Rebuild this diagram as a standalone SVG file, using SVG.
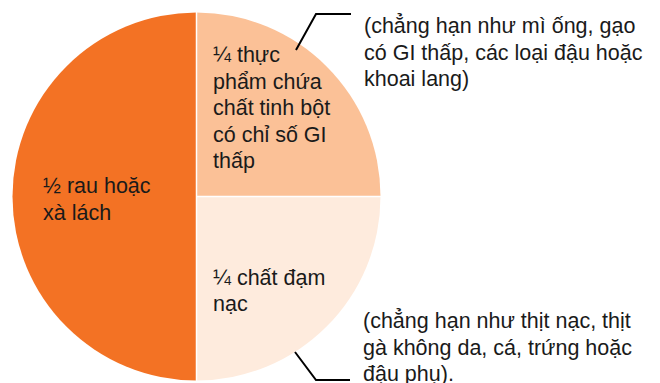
<svg xmlns="http://www.w3.org/2000/svg" width="660" height="383" viewBox="0 0 660 383">
  <style>
    .lbl { font-family: "Liberation Sans", Arial, sans-serif; font-size: 21.5px; fill: #1a1a1a; }
    .sep { stroke: #ffffff; stroke-width: 1.5; fill: none; }
    .lead { stroke: #000000; stroke-width: 2; fill: none; }
  </style>
  <rect width="660" height="383" fill="#ffffff"/>

  <!-- half: vegetables -->
  <g id="veg">
    <path d="M196.5,12.5 A184,184 0 0 0 196.5,380.5 Z" fill="#F37224"/>
    <text class="lbl" x="43" y="193">½ rau hoặc</text>
    <text class="lbl" x="43" y="219.5">xà lách</text>
  </g>

  <!-- quarter: starch -->
  <g id="starch">
    <path d="M196.5,196.5 L196.5,12.5 A184,184 0 0 1 380.5,196.5 Z" fill="#FBC197"/>
    <text class="lbl" x="213" y="62">¼ thực</text>
    <text class="lbl" x="213" y="88.5">phẩm chứa</text>
    <text class="lbl" x="213" y="115">chất tinh bột</text>
    <text class="lbl" x="213" y="141.5">có chỉ số GI</text>
    <text class="lbl" x="213" y="168">thấp</text>
  </g>

  <!-- quarter: lean protein -->
  <g id="protein">
    <path d="M196.5,196.5 L380.5,196.5 A184,184 0 0 1 196.5,380.5 Z" fill="#FEEBDD"/>
    <text class="lbl" x="213" y="285">¼ chất đạm</text>
    <text class="lbl" x="213" y="311">nạc</text>
  </g>

  <!-- slice separators -->
  <g id="separators">
    <line class="sep" x1="196.5" y1="12" x2="196.5" y2="381"/>
    <line class="sep" x1="196.5" y1="196.5" x2="381" y2="196.5"/>
  </g>

  <!-- side notes -->
  <g id="note-starch">
    <text class="lbl" x="364" y="33">(chẳng hạn như mì ống, gạo</text>
    <text class="lbl" x="364" y="59.5">có GI thấp, các loại đậu hoặc</text>
    <text class="lbl" x="364" y="86">khoai lang)</text>
  </g>
  <g id="note-protein">
    <text class="lbl" x="363" y="328">(chẳng hạn như thịt nạc, thịt</text>
    <text class="lbl" x="363" y="354.5">gà không da, cá, trứng hoặc</text>
    <text class="lbl" x="363" y="381">đậu phụ).</text>
  </g>

  <!-- leader lines -->
  <g id="connectors">
    <polyline class="lead" points="296,50 316,14 351,14"/>
    <polyline class="lead" points="295,352 316,380 350,380"/>
  </g>
</svg>
